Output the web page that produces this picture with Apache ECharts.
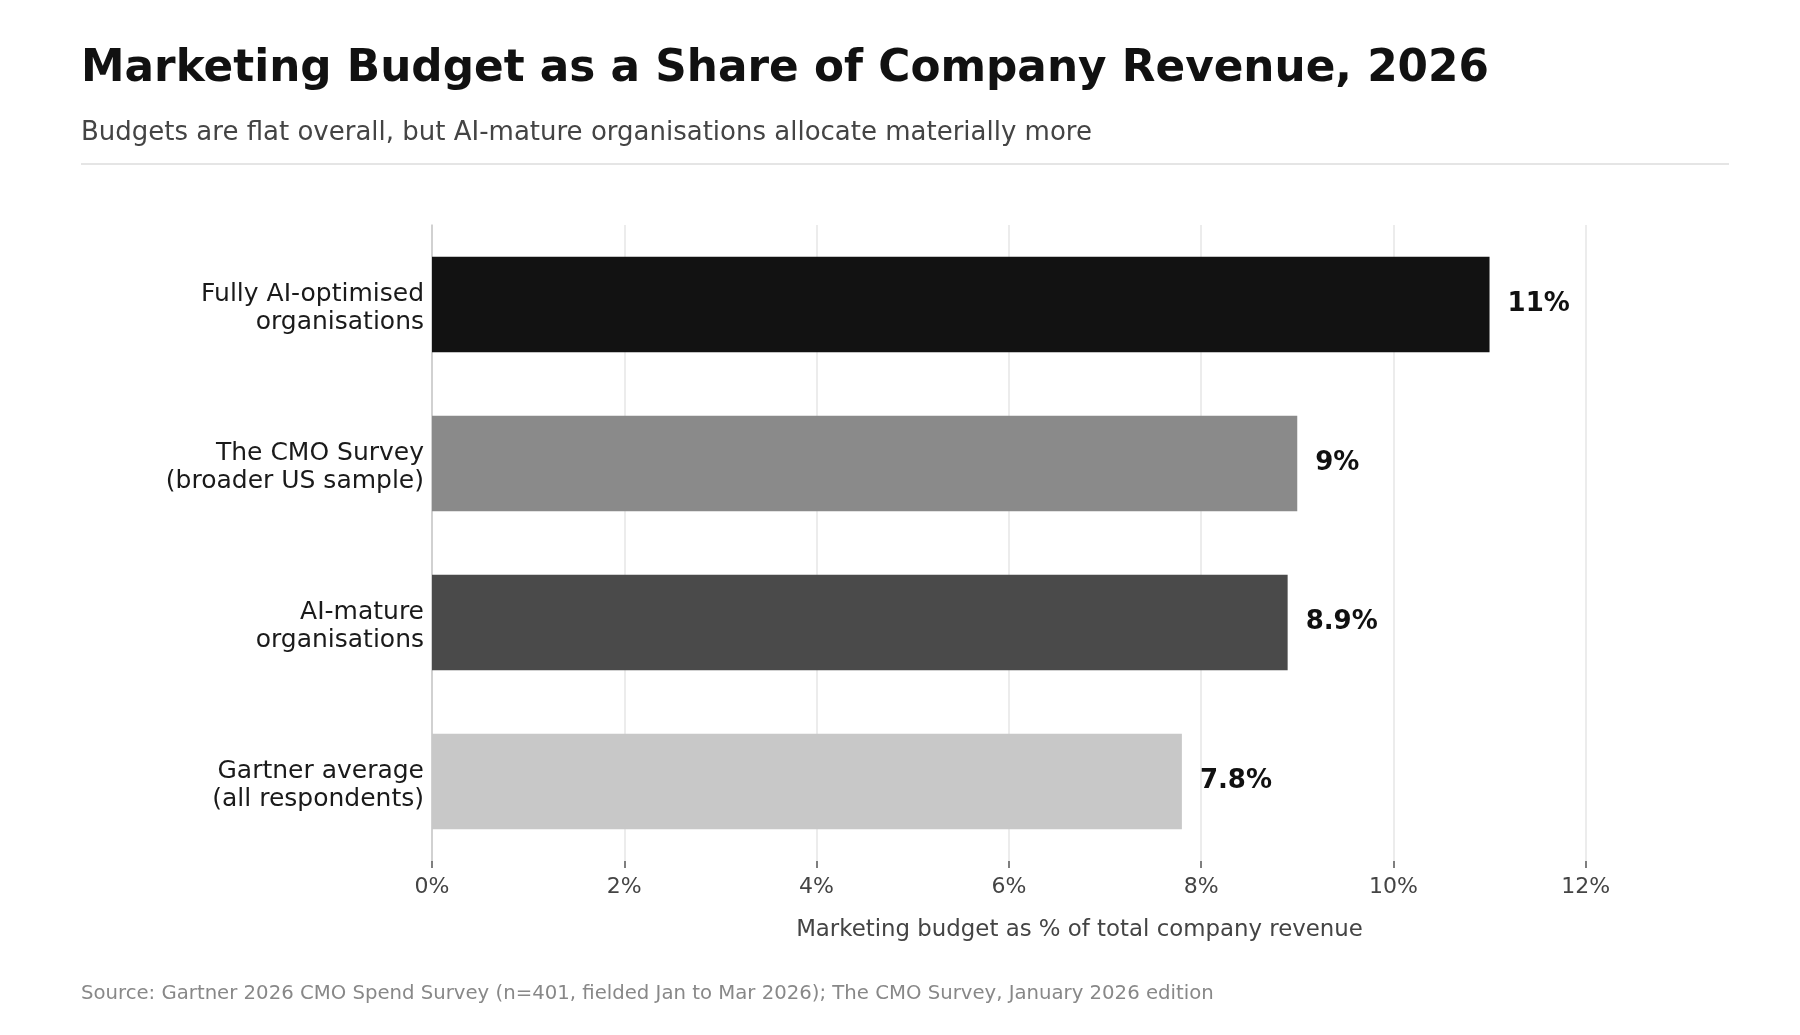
<!DOCTYPE html>
<html>
<head>
<meta charset="utf-8">
<script src="https://cdn.jsdelivr.net/npm/echarts@6/dist/echarts.min.js"></script>
<style>
html,body{margin:0;padding:0;background:#fff;}
#chart{width:1800px;height:1035px;}
</style>
</head>
<body>
<div id="chart"></div>
<script>
const categories = [
  "Fully AI-optimised\norganisations",
  "The CMO Survey\n(broader US sample)",
  "AI-mature\norganisations",
  "Gartner average\n(all respondents)"
];
const values = [11, 9, 8.9, 7.8];
const valueLabels = ["11%", "9%", "8.9%", "7.8%"];
const barColors = ["#121212", "#8a8a8a", "#4a4a4a", "#c8c8c8"];
const xTicks = [0, 2, 4, 6, 8, 10, 12];

const FONT = "DejaVu Sans";
const chart = echarts.init(document.getElementById('chart'));
chart.setOption({
  backgroundColor: '#ffffff',
  animation: false,
  title: [
    {
      text: "Marketing Budget as a Share of Company Revenue, 2026",
      left: 81, top: 48, padding: 0,
      textStyle: {fontFamily: FONT, fontSize: 43.75, fontWeight: 'bold', color: '#111111'}
    },
    {
      text: "Budgets are flat overall, but AI-mature organisations allocate materially more",
      left: 81, top: 120, padding: 0,
      textStyle: {fontFamily: FONT, fontSize: 26, fontWeight: 'normal', color: '#444444'}
    },
    {
      text: "Source: Gartner 2026 CMO Spend Survey (n=401, fielded Jan to Mar 2026); The CMO Survey, January 2026 edition",
      left: 81, top: 984, padding: 0,
      textStyle: {fontFamily: FONT, fontSize: 19.7, fontWeight: 'normal', color: '#888888'}
    }
  ],
  graphic: [
    {type: 'line', shape: {x1: 81, y1: 164, x2: 1729, y2: 164}, style: {stroke: '#e5e5e5', lineWidth: 2}, silent: true}
  ],
  grid: {left: 432, right: 73, top: 225, bottom: 174, containLabel: false},
  xAxis: {
    type: 'value',
    min: 0, max: 13.47, interval: 2,
    name: "Marketing budget as % of total company revenue",
    nameLocation: 'middle',
    nameGap: 58,
    nameTextStyle: {fontFamily: FONT, fontSize: 22.86, color: '#444444'},
    axisLine: {show: false},
    axisTick: {show: true, length: 7, customValues: xTicks, lineStyle: {color: '#555555', width: 1.5}},
    axisLabel: {
      fontFamily: FONT, fontSize: 22, color: '#444444', margin: 15,
      customValues: xTicks,
      formatter: v => v + '%'
    },
    splitLine: {show: true, lineStyle: {color: '#e6e6e6', width: 1.5}}
  },
  yAxis: {
    type: 'category',
    inverse: true,
    data: categories,
    axisLine: {show: true, lineStyle: {color: '#c8c8c8', width: 1.5}},
    axisTick: {show: false},
    axisLabel: {
      margin: 8, align: 'right',
      formatter: v => '{s| }\n' + v.split('\n').map(l => '{a|' + l + '}').join('\n'),
      rich: {
        s: {fontSize: 1, lineHeight: 7, fontFamily: FONT},
        a: {fontFamily: FONT, fontSize: 25, color: '#1a1a1a', lineHeight: 28}
      }
    },
    splitLine: {show: false}
  },
  series: [{
    type: 'bar',
    data: values.map((v, i) => ({value: v, itemStyle: {color: barColors[i]}})),
    barWidth: '60%',
    label: {
      show: true, position: 'right', distance: 18,
      fontFamily: FONT, fontSize: 26, fontWeight: 'bold', color: '#111111',
      formatter: p => valueLabels[p.dataIndex]
    }
  }]
});
</script>
</body>
</html>
